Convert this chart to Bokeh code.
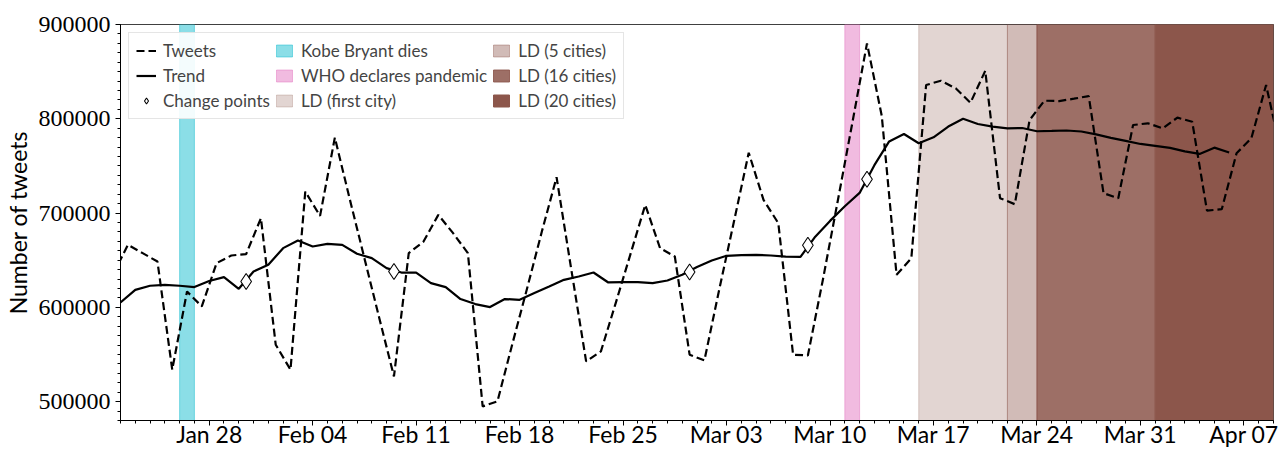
import pandas as pd
from bokeh.plotting import figure
from bokeh.models import (FixedTicker, DatetimeTickFormatter, BasicTickFormatter,
                          Range1d, Legend, LegendItem)
from bokeh.embed import file_html
from bokeh.resources import INLINE

# ---------------- data ----------------
# daily tweet counts (timestamps at noon), Jan 21 12:00 .. Apr 9 12:00
tweet_dates = pd.date_range("2020-01-21 12:00", periods=80, freq="D")
tweets = [
    635000, 666300, 657500, 648600, 533900, 616800, 601000, 646900, 655000, 656500,
    694600, 560400, 533900, 722800, 697000, 780000, 715400, 652200, 589000, 526800,
    657500, 669800, 698100, 678700, 657500, 495000, 500300, 560700, 619700, 680100,
    738000, 639800, 542700, 553300, 604500, 656500, 708700, 662800, 653900, 549800,
    543700, 618600, 691000, 764000, 714000, 689300, 549800, 549000, 628000, 711000,
    795000, 880000, 803000, 634500, 652200, 835800, 840400, 832300, 817000, 850900,
    715800, 709400, 798700, 819200, 818800, 821300, 824100, 721100, 715800, 793400,
    795200, 789900, 801200, 796900, 702600, 704100, 763400, 779300, 835800, 765000,
]

# trend (timestamps at midnight), Jan 22 .. Apr 6
trend_dates = pd.date_range("2020-01-22", periods=76, freq="D")
trend = [
    605200, 618600, 622900, 623900, 622900, 621500, 628000, 632100, 619700, 638000,
    645100, 662800, 670900, 664500, 667400, 666300, 656800, 652200, 641600, 636900,
    636900, 625700, 621500, 608800, 603500, 600300, 608800, 608000, 615100, 622100,
    629200, 632700, 637000, 626400, 626700, 626700, 625700, 628500, 634500, 642700,
    649700, 654700, 655400, 655700, 655000, 653900, 653500, 675000, 691700, 707200,
    721400, 750800, 776000, 783900, 774000, 780400, 791800, 800100, 794500, 791600,
    789900, 790200, 786800, 787100, 787600, 786500, 783400, 779700, 776500, 773300,
    771200, 769100, 765400, 762700, 769400, 764300,
]

# change points
cp_dates = pd.to_datetime(["2020-01-30 12:00", "2020-02-09 12:00", "2020-02-29 12:00",
                           "2020-03-08 12:00", "2020-03-12 12:00"])
cp_values = [627400, 638000, 637500, 665800, 735900]

# events shown as shaded spans
event_labels = ["Kobe Bryant dies", "WHO declares pandemic", "LD (first city)",
                "LD (5 cities)", "LD (16 cities)", "LD (20 cities)"]
event_start = pd.to_datetime(["2020-01-26", "2020-03-11", "2020-03-16",
                              "2020-03-22", "2020-03-24", "2020-04-01"])
event_end = pd.to_datetime(["2020-01-27", "2020-03-12", "2020-03-22",
                            "2020-03-24", "2020-04-01", "2020-04-10"])

# axis ticks
y_major = [500000, 600000, 700000, 800000, 900000]
x_major = pd.date_range("2020-01-28", "2020-04-07", freq="7D")

# ---------------- styles ----------------
event_colors = ["#17becf", "#e377c2", "#8c564b", "#8c564b", "#8c564b", "#8c564b"]
event_alphas = [0.5, 0.5, 0.25, 0.4, 0.85, 1.0]

Y0, Y1 = 480000, 900000

p = figure(width=1282, height=450, x_axis_type="datetime",
           output_backend="svg", toolbar_location=None,
           x_range=Range1d(pd.Timestamp("2020-01-22"), pd.Timestamp("2020-04-09")),
           y_range=Range1d(Y0, Y1),
           min_border_left=120, min_border_right=9,
           min_border_top=24, min_border_bottom=29)
p.xgrid.visible = False
p.ygrid.visible = False
p.outline_line_color = "black"
p.outline_line_alpha = 0.75
p.background_fill_color = "white"

band_renderers = []
for s, e, c, a in zip(event_start, event_end, event_colors, event_alphas):
    r = p.quad(left=s, right=e, bottom=Y0, top=Y1, fill_color=c, fill_alpha=a,
               line_color=c, line_alpha=a, line_width=1)
    band_renderers.append(r)

r_tw = p.line(tweet_dates, tweets, line_color="black", line_width=2.2, line_dash="8 4")
r_tr = p.line(trend_dates, trend, line_color="black", line_width=2.2)
r_cp = p.scatter(cp_dates, cp_values, marker="diamond", size=16,
                 fill_color="white", line_color="black", line_width=1.1)

# x axis
xa = p.xaxis[0]
ms = [int(t.value // 10**6) for t in x_major]
minor = [int(t.value // 10**6) for t in pd.date_range("2020-01-22", "2020-04-09", freq="D")]
xa.ticker = FixedTicker(ticks=ms, minor_ticks=minor)
fmt = "%b %d"
xa.formatter = DatetimeTickFormatter(days=fmt, months=fmt, hours=fmt, hourmin=fmt,
                                     minutes=fmt, years=fmt, context=None)
xa.major_label_text_font = "Lato"
xa.major_label_text_font_size = "23px"
xa.major_label_text_color = "black"
xa.major_label_standoff = -6
xa.major_tick_out = 5
xa.major_tick_in = 0
xa.minor_tick_out = 3
xa.minor_tick_in = 0
xa.axis_line_color = "black"
xa.major_tick_line_color = "black"
xa.minor_tick_line_color = "black"

# y axis
ya = p.yaxis[0]
ya.ticker = FixedTicker(ticks=y_major, minor_ticks=list(range(480000, 900001, 10000)))
ya.formatter = BasicTickFormatter(use_scientific=False)
ya.major_label_text_font = "Liberation Serif"
ya.major_label_text_font_size = "24px"
ya.major_label_text_color = "black"
ya.major_label_standoff = 5
ya.major_tick_out = 5
ya.major_tick_in = 0
ya.minor_tick_out = 3
ya.minor_tick_in = 0
ya.axis_label = "Number of tweets"
ya.axis_label_text_font = "Lato"
ya.axis_label_text_font_size = "23px"
ya.axis_label_text_font_style = "normal"
ya.axis_label_text_color = "black"
ya.axis_label_standoff = 4

items = [LegendItem(label="Tweets", renderers=[r_tw]),
         LegendItem(label="Trend", renderers=[r_tr]),
         LegendItem(label="Change points", renderers=[r_cp])]
for lab, r in zip(event_labels, band_renderers):
    items.append(LegendItem(label=lab, renderers=[r]))

legend = Legend(items=items, location="top_left", orientation="vertical", nrows=3,
                label_text_font="Lato", label_text_font_size="17px",
                glyph_width=20, glyph_height=15, label_standoff=7,
                spacing=4, padding=7, margin=8,
                border_line_color="#cccccc", border_line_width=1,
                background_fill_alpha=0.9)
p.add_layout(legend)

open("out.html", "w").write(file_html(p, INLINE))
